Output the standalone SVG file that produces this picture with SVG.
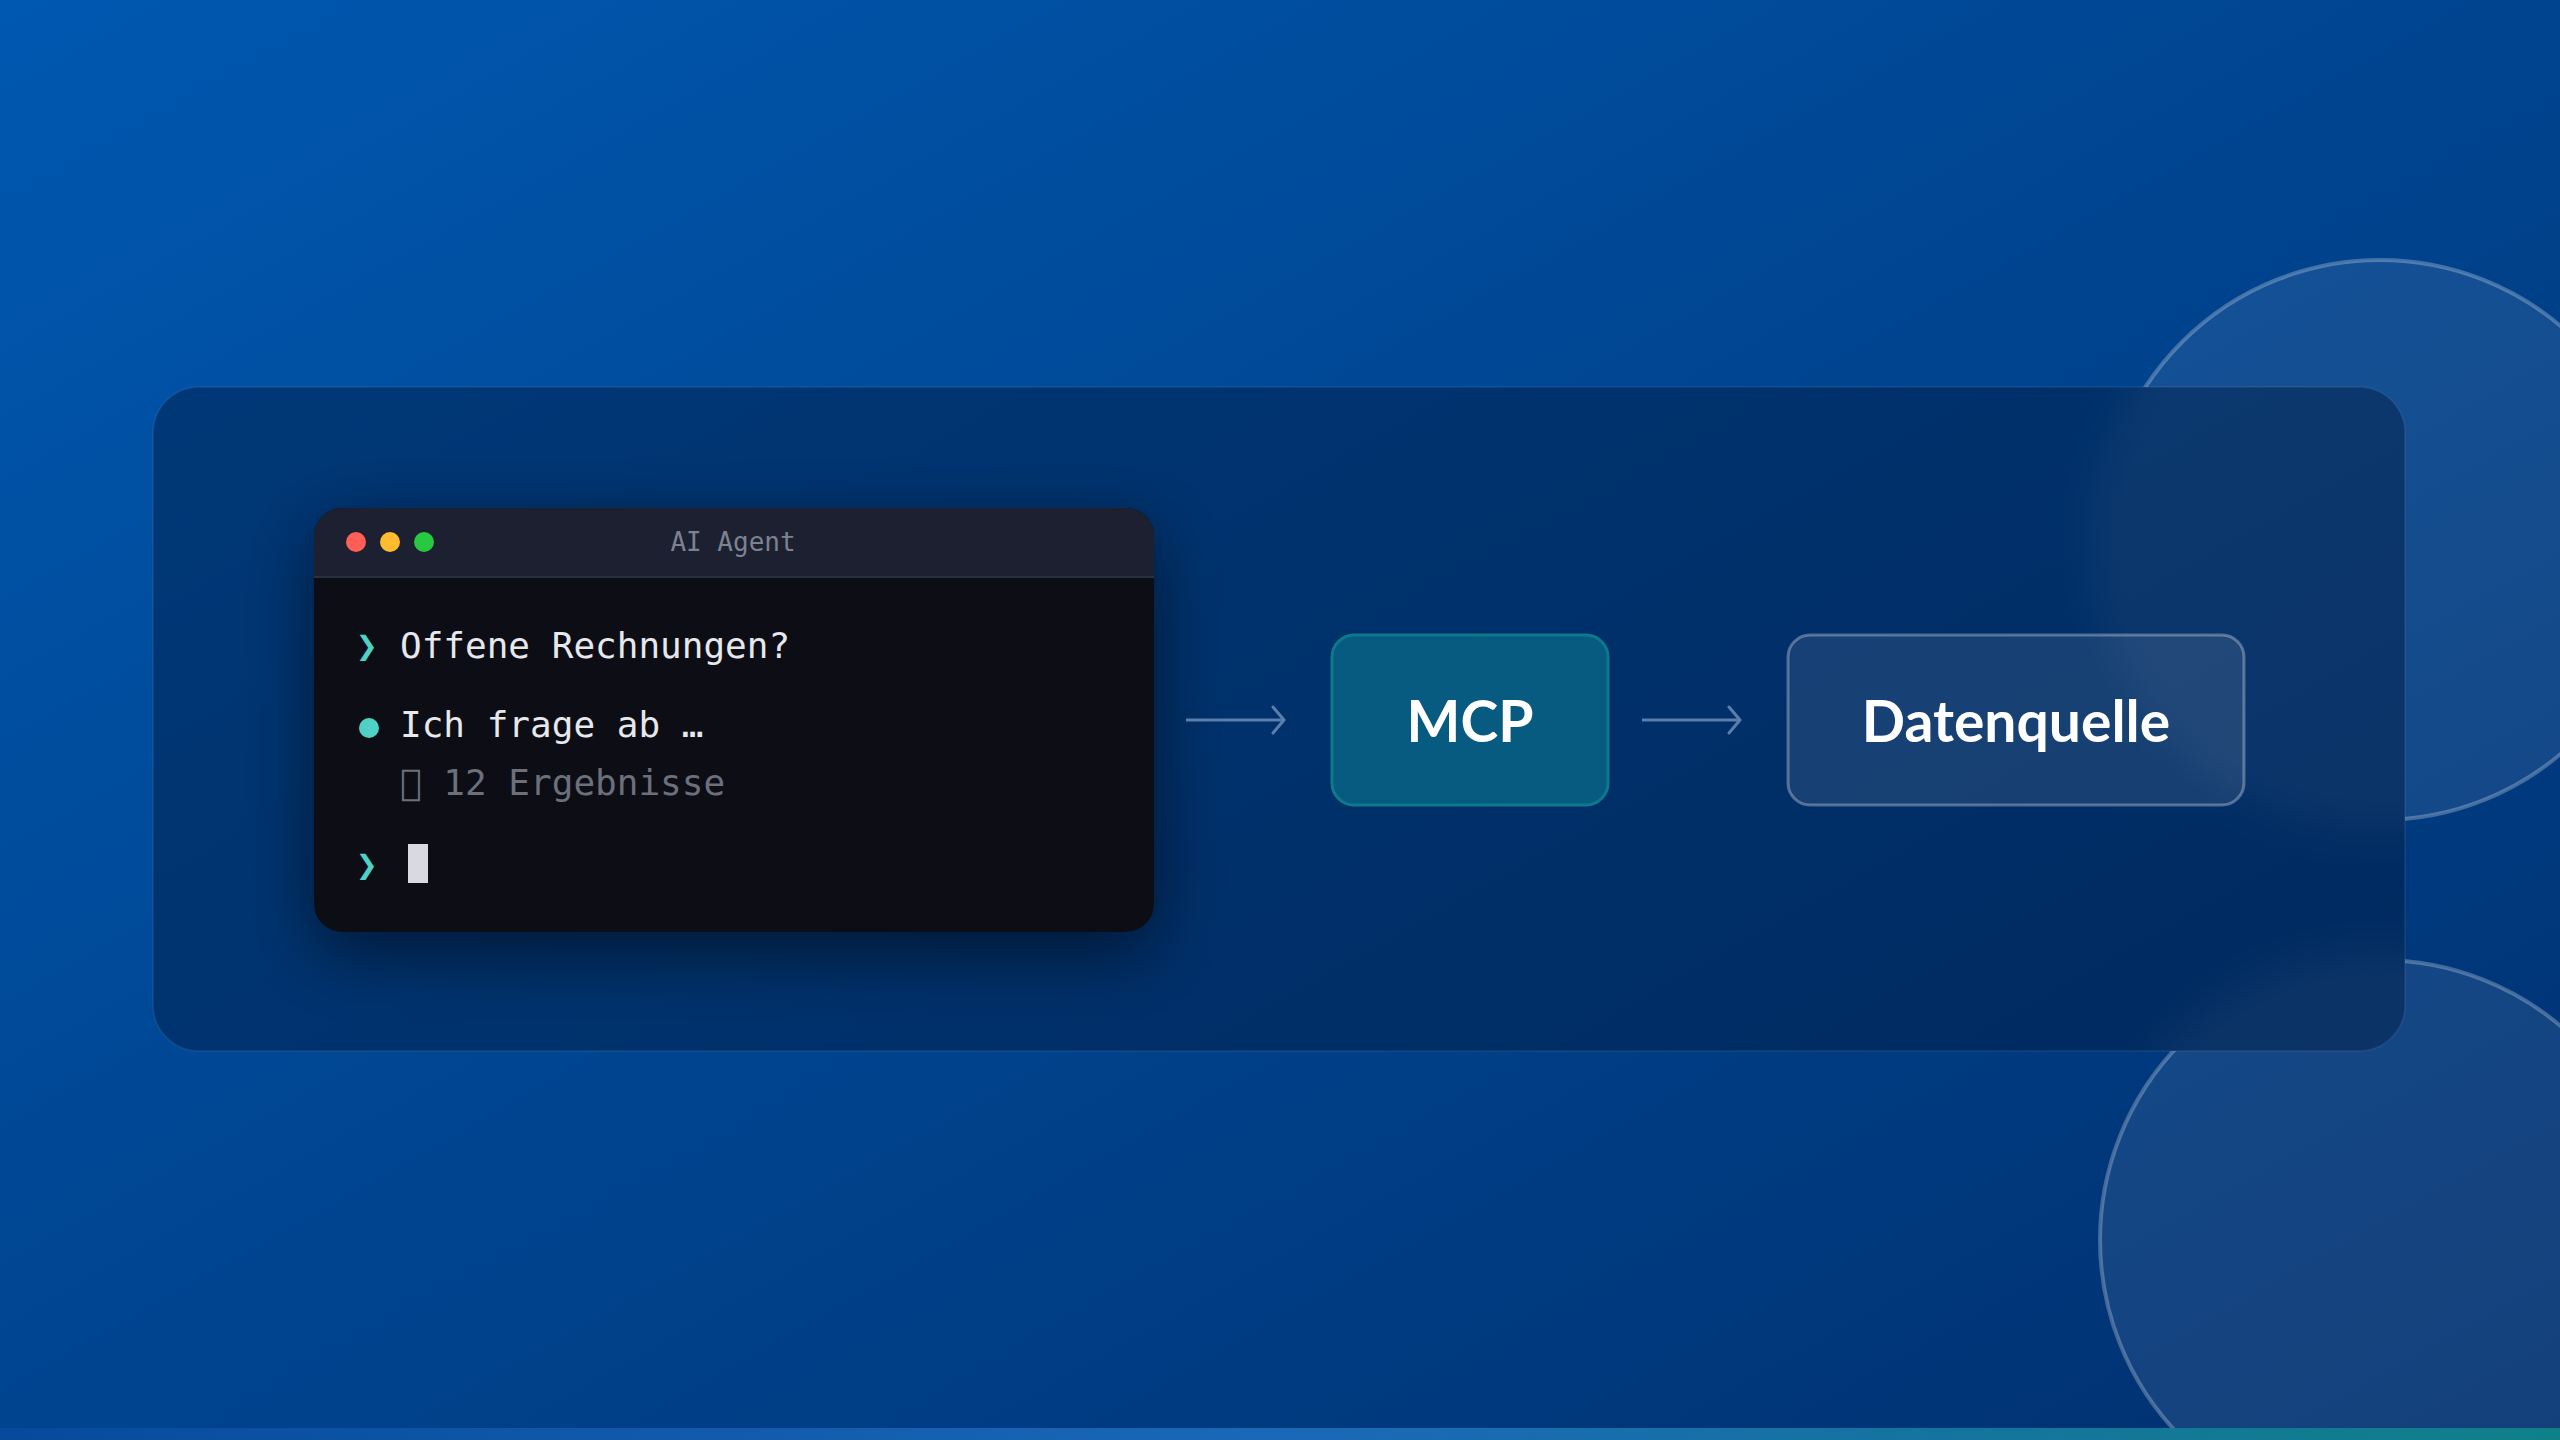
<svg xmlns="http://www.w3.org/2000/svg" width="2560" height="1440" viewBox="0 0 2560 1440">
  <defs>
    <linearGradient id="bg" x1="0" y1="0" x2="1" y2="1">
      <stop offset="0" stop-color="#0058b0"/>
      <stop offset="1" stop-color="#00306f"/>
    </linearGradient>
    <linearGradient id="bar" x1="0" y1="0" x2="1" y2="0">
      <stop offset="0" stop-color="#074a9c"/>
      <stop offset="0.5" stop-color="#1b68b8"/>
      <stop offset="1" stop-color="#0f8088"/>
    </linearGradient>
    <clipPath id="panelClip">
      <rect x="153" y="387" width="2252" height="664" rx="46"/>
    </clipPath>
    <mask id="outsidePanel">
      <rect x="0" y="0" width="2560" height="1440" fill="#fff"/>
      <rect x="153" y="387" width="2252" height="664" rx="46" fill="#000"/>
    </mask>
    <filter id="blur" x="-20%" y="-20%" width="140%" height="140%">
      <feGaussianBlur stdDeviation="22"/>
    </filter>
    <filter id="shadow" x="-20%" y="-30%" width="140%" height="170%">
      <feGaussianBlur in="SourceAlpha" stdDeviation="36"/>
      <feOffset dy="20"/>
      <feComponentTransfer><feFuncA type="linear" slope="0.55"/></feComponentTransfer>
      <feMerge><feMergeNode/><feMergeNode in="SourceGraphic"/></feMerge>
    </filter>
    <marker id="arrow" markerWidth="16" markerHeight="30" refX="13" refY="15" orient="auto" markerUnits="userSpaceOnUse">
      <path d="M2,2 L13,15 L2,28" fill="none" stroke="#5b7fac" stroke-width="3" stroke-linecap="round" stroke-linejoin="round"/>
    </marker>
    <style>
      .deco { fill: rgba(255,255,255,0.08); stroke: rgba(255,255,255,0.26); stroke-width: 4; }
      .mono { font-family: "DejaVu Sans Mono", "Liberation Mono", monospace; font-size: 36px; }
      .label { font-family: Lato, "Noto Sans", "Liberation Sans", sans-serif; font-weight: 700; font-size: 57px; fill: #ffffff; text-anchor: middle; }
      .conn { stroke: #5b7fac; stroke-width: 3; fill: none; }
      .chev { fill: #4fd1c5; }
    </style>
  </defs>

  <rect width="2560" height="1440" fill="url(#bg)"/>

  <!-- decorative circles -->
  <g id="decor" mask="url(#outsidePanel)">
    <circle class="deco" cx="2380" cy="540" r="280"/>
    <circle class="deco" cx="2380" cy="1240" r="280"/>
  </g>
  <g clip-path="url(#panelClip)">
    <g filter="url(#blur)">
      <circle class="deco" cx="2380" cy="540" r="280"/>
      <circle class="deco" cx="2380" cy="1240" r="280"/>
    </g>
  </g>

  <!-- panel -->
  <rect id="panel" x="153" y="387" width="2252" height="664" rx="46" fill="#001a40" fill-opacity="0.45" stroke="rgba(255,255,255,0.06)" stroke-width="2"/>

  <!-- terminal node -->
  <g id="terminal">
    <g filter="url(#shadow)">
      <rect x="314" y="508" width="840" height="424" rx="28" fill="#0d1018"/>
    </g>
    <path d="M314,577 V536 a28,28 0 0 1 28,-28 H1126 a28,28 0 0 1 28,28 V577 Z" fill="#1c2030"/>
    <rect x="314" y="576" width="840" height="2" fill="#2b3040"/>
    <circle cx="356" cy="542" r="10" fill="#ff5f57"/>
    <circle cx="390" cy="542" r="10" fill="#febc2e"/>
    <circle cx="424" cy="542" r="10" fill="#28c840"/>
    <text x="733" y="551" text-anchor="middle" font-family="DejaVu Sans Mono, Liberation Mono, monospace" font-size="26" fill="#7d8290">AI Agent</text>

    <text class="mono chev" x="356" y="658">❯</text>
    <text class="mono" x="400" y="658" fill="#e6e8ec">Offene Rechnungen?</text>

    <circle cx="369" cy="728" r="10" fill="#4fd1c5"/>
    <text class="mono" x="400" y="737" fill="#e6e8ec">Ich frage ab …</text>

    <text class="mono" x="400" y="795" fill="#6b707a">&#xE000; 12 Ergebnisse</text>

    <text class="mono chev" x="356" y="877">❯</text>
    <rect x="408" y="844" width="20" height="39" fill="#d8dadf"/>
  </g>

  <!-- MCP node -->
  <g id="mcp">
    <rect x="1332" y="635" width="276" height="170" rx="22" fill="#075a80" stroke="#0c7a8c" stroke-width="3"/>
    <text class="label" x="1470" y="742">MCP</text>
  </g>

  <!-- Datenquelle node -->
  <g id="datenquelle">
    <rect x="1788" y="635" width="456" height="170" rx="22" fill="rgba(255,255,255,0.09)" stroke="rgba(255,255,255,0.3)" stroke-width="3"/>
    <text class="label" x="2016" y="742">Datenquelle</text>
  </g>

  <!-- connectors -->
  <g id="connectors">
    <line class="conn" x1="1186" y1="720" x2="1284" y2="720" marker-end="url(#arrow)"/>
    <line class="conn" x1="1642" y1="720" x2="1740" y2="720" marker-end="url(#arrow)"/>
  </g>

  <rect x="0" y="1428" width="2560" height="12" fill="url(#bar)"/>
</svg>
